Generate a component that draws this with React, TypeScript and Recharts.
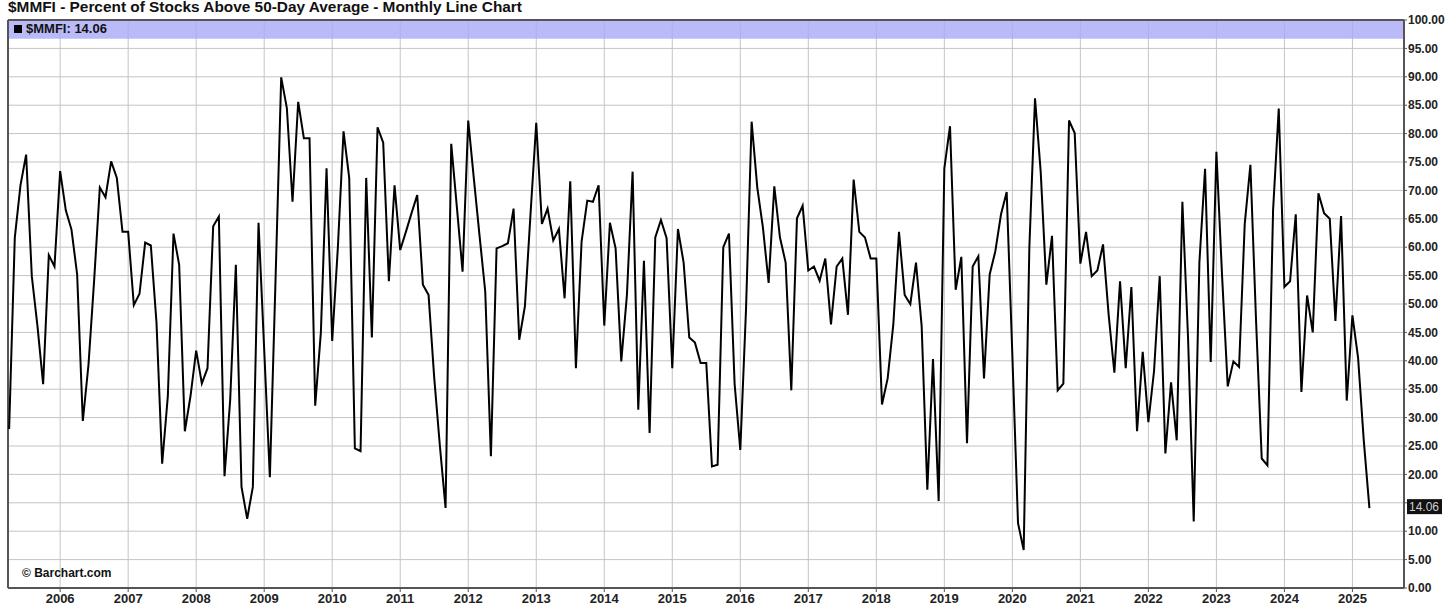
import React from 'react';
import {
  LineChart,
  Line,
  XAxis,
  YAxis,
  CartesianGrid,
  ReferenceArea,
  ReferenceLine,
} from 'recharts';

// monthly closes, first point is April 2005
const v2005 = [28, 61.7, 70.9, 76.3, 54.9, 46.1, 35.9, 58.6, 56.6];
const v2006 = [73.4, 66.5, 63.1, 55.2, 29.4, 39.3, 54.2, 70.5, 68.8, 75.1, 72.2, 62.7];
const v2007 = [62.7, 49.8, 51.8, 60.8, 60.3, 46.7, 21.9, 33.8, 62.4, 56.9, 27.6, 33.8];
const v2008 = [41.8, 36, 38.7, 63.7, 65.4, 19.7, 33.1, 56.9, 17.8, 12.2, 17.8, 64.3];
const v2009 = [42, 19.5, 54.2, 89.9, 84.5, 68, 85.6, 79.2, 79.2, 32.1, 45, 73.9];
const v2010 = [43.5, 60, 80.4, 72.2, 24.6, 24.1, 72.2, 44.1, 81.1, 78.4, 54, 70.9];
const v2011 = [59.5, 62.7, 66, 69.2, 53.4, 51.6, 37, 25, 14.1, 78.2, 67, 55.7];
const v2012 = [82.3, 72, 62, 52.2, 23.2, 59.8, 60.2, 60.7, 66.8, 43.7, 49.6, 66];
const v2013 = [81.9, 64.1, 66.8, 61.2, 63.2, 51, 71.6, 38.7, 61, 68.2, 68, 70.9];
const v2014 = [46.2, 64.3, 59.8, 39.9, 51.6, 73.3, 31.4, 57.6, 27.3, 61.7, 64.8, 61.6];
const v2015 = [38.7, 63.2, 57.3, 44.1, 43.2, 39.6, 39.6, 21.4, 21.7, 60, 62.4, 35.9];
const v2016 = [24.3, 48.8, 82.1, 70.5, 63.4, 53.7, 70.7, 61.7, 57.3, 34.8, 65.1, 67.3];
const v2017 = [55.9, 56.6, 54.1, 58, 46.4, 56.6, 58, 48.1, 71.9, 62.7, 61.7, 58];
const v2018 = [58, 32.3, 36.9, 46.4, 62.7, 51.6, 50, 57.3, 46.1, 17.3, 40.3, 15.3];
const v2019 = [73.9, 81.3, 52.5, 58.3, 25.5, 56.6, 58.4, 36.9, 55.2, 59.3, 65.8, 69.7];
const v2020 = [41, 11.4, 6.7, 60, 86.2, 73.3, 53.4, 62, 34.8, 36, 82.3, 80.1];
const v2021 = [57.1, 62.7, 54.9, 55.9, 60.5, 48, 37.9, 54, 38.7, 53, 27.6, 41.6];
const v2022 = [29.2, 38.2, 54.9, 23.7, 36.2, 26, 68, 44, 11.7, 57.3, 73.8, 39.8];
const v2023 = [76.8, 55, 35.5, 39.9, 38.9, 64.1, 74.5, 47, 22.8, 21.6, 66.5, 84.4];
const v2024 = [53, 54, 65.8, 34.5, 51.5, 45, 69.5, 66, 65, 47, 65.5, 33];
const v2025 = [48, 40.5, 26, 14.06];

const yearLabels = [
  '2006', '2007', '2008', '2009', '2010', '2011', '2012', '2013', '2014', '2015',
  '2016', '2017', '2018', '2019', '2020', '2021', '2022', '2023', '2024', '2025',
];
const yTicks = [0, 5, 10, 15, 20, 25, 30, 35, 40, 45, 50, 55, 60, 65, 70, 75, 80, 85, 90, 95, 100];

const values = [
  ...v2005, ...v2006, ...v2007, ...v2008, ...v2009, ...v2010, ...v2011,
  ...v2012, ...v2013, ...v2014, ...v2015, ...v2016, ...v2017, ...v2018,
  ...v2019, ...v2020, ...v2021, ...v2022, ...v2023, ...v2024, ...v2025,
];
const lastValue = values[values.length - 1];
const data = values.map((v, i) => ({ i, v }));
// January of each year (Jan 2006 is the 10th month)
const yearTicks = yearLabels.map((_, k) => v2005.length + 12 * k);

const FONT = '"Liberation Sans", Arial, sans-serif';
const X_MIN = -0.2;
const X_MAX = 246.1;

const LastValueTag = (props: any) => {
  const { viewBox } = props;
  if (!viewBox) return null;
  const x = viewBox.x + viewBox.width + 3;
  const y = viewBox.y;
  return (
    <g>
      <rect x={x} y={y - 9} width={35} height={15} fill="#111" />
      <text x={x + 2} y={y + 3} fill="#cfcfcf" fontSize={12} fontFamily={FONT}>
        {lastValue.toFixed(2)}
      </text>
    </g>
  );
};

const App: React.FC = () => {
  return (
    <div
      style={{
        position: 'absolute',
        left: 0,
        top: 0,
        width: 1456,
        height: 616,
        background: '#fff',
        fontFamily: FONT,
      }}
    >
      <LineChart
        width={1456}
        height={616}
        data={data}
        margin={{ top: 20, right: 0, left: 8, bottom: 0 }}
      >
        <CartesianGrid stroke="#c4c4c4" strokeWidth={1} />
        <ReferenceArea
          y1={96.7}
          y2={100}
          fill="#a9a9f6"
          fillOpacity={0.8}
          stroke="none"
          ifOverflow="visible"
        />
        <ReferenceLine y={100} stroke="#555" strokeWidth={2} ifOverflow="visible" />
        <ReferenceLine x={X_MIN} stroke="#555" strokeWidth={2} ifOverflow="visible" />
        <XAxis
          type="number"
          dataKey="i"
          domain={[X_MIN, X_MAX]}
          allowDataOverflow
          ticks={yearTicks}
          tickFormatter={(t: number) => yearLabels[yearTicks.indexOf(t)] ?? ''}
          height={28}
          axisLine={{ stroke: '#555', strokeWidth: 2 }}
          tickLine={{ stroke: '#555' }}
          tickSize={4}
          tickMargin={2}
          tick={{ fontSize: 13, fontWeight: 'bold', fill: '#222', fontFamily: FONT }}
        />
        <YAxis
          orientation="right"
          type="number"
          domain={[0, 100]}
          ticks={yTicks}
          width={52}
          interval={0}
          tickFormatter={(t: number) =>
            Math.abs(t - lastValue) < 3 ? '' : t.toFixed(2)
          }
          axisLine={{ stroke: '#555', strokeWidth: 2 }}
          tickLine={{ stroke: '#555' }}
          tickSize={3}
          tickMargin={1}
          tick={{ fontSize: 12, fontWeight: 'bold', fill: '#222', fontFamily: FONT }}
        />
        <Line
          type="linear"
          dataKey="v"
          stroke="#000"
          strokeWidth={2}
          dot={false}
          isAnimationActive={false}
        />
        <ReferenceLine
          y={lastValue}
          stroke="none"
          ifOverflow="visible"
          label={<LastValueTag />}
        />
      </LineChart>
      <div
        style={{
          position: 'absolute',
          left: 8,
          top: -2,
          fontSize: 15.4,
          fontWeight: 'bold',
          color: '#111',
          whiteSpace: 'nowrap',
        }}
      >
        $MMFI - Percent of Stocks Above 50-Day Average - Monthly Line Chart
      </div>
      <div
        style={{
          position: 'absolute',
          left: 14,
          top: 21,
          fontSize: 13,
          fontWeight: 'bold',
          color: '#111',
          whiteSpace: 'nowrap',
          display: 'flex',
          alignItems: 'center',
        }}
      >
        <span
          style={{
            display: 'inline-block',
            width: 8,
            height: 8,
            background: '#000',
            marginRight: 4,
          }}
        />
        $MMFI: {lastValue.toFixed(2)}
      </div>
      <div
        style={{
          position: 'absolute',
          left: 22,
          top: 566,
          fontSize: 12,
          fontWeight: 'bold',
          color: '#111',
          whiteSpace: 'nowrap',
        }}
      >
        © Barchart.com
      </div>
    </div>
  );
};

export default App;
